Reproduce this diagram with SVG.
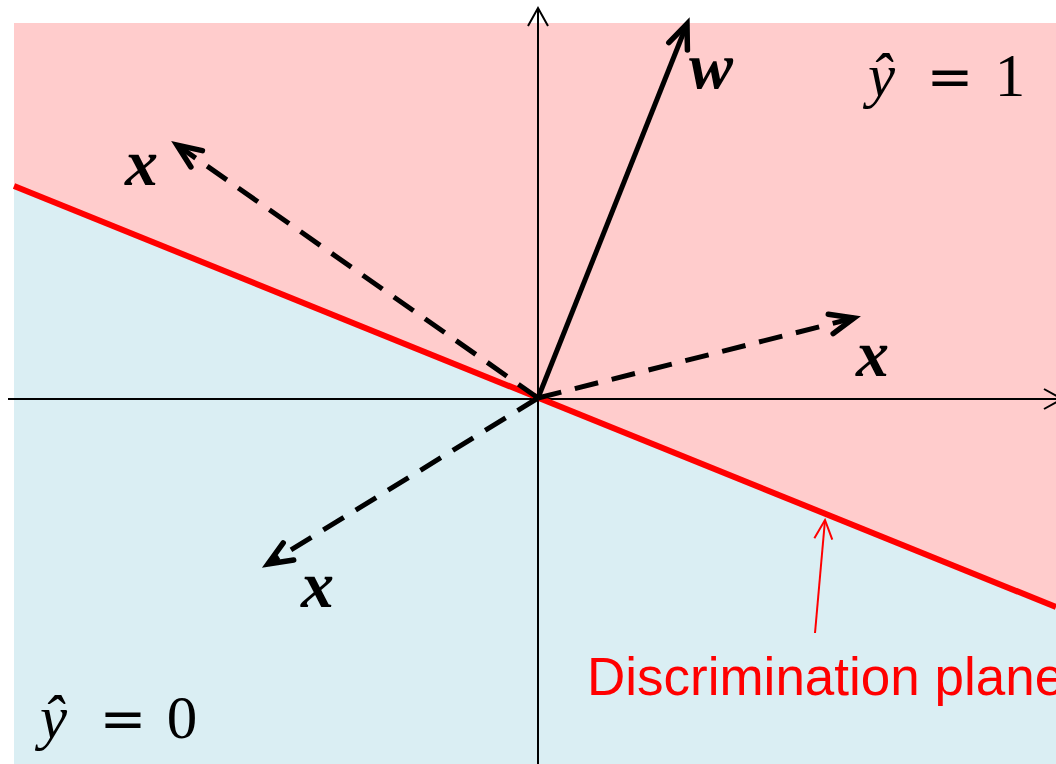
<svg xmlns="http://www.w3.org/2000/svg" width="1056" height="764" viewBox="0 0 1056 764">
<style>
.axis{stroke:#000;stroke-width:2;fill:none}
.vec{stroke:#000;stroke-width:5;fill:none}
.dash{stroke:#000;stroke-width:5;fill:none;stroke-dasharray:24 14}
.var{font-family:"Liberation Serif","DejaVu Serif",serif;font-style:italic;font-weight:bold;font-size:66px;fill:#000}
.math{font-family:"Liberation Serif","DejaVu Serif",serif;font-size:61px;fill:#000}
.eq{font-family:"DejaVu Serif","Liberation Serif",serif;font-size:56px;fill:#000}
.it{font-style:italic}
.lbl{font-family:"Liberation Sans",Arial,sans-serif;font-size:53px;fill:#FF0000}
</style>
<defs>
<marker id="ahAxis" markerUnits="userSpaceOnUse" viewBox="-22 -14 26 28" refX="0" refY="0" markerWidth="26" markerHeight="28" orient="auto" overflow="visible">
<path d="M-18,-10 L0,0 L-18,10" fill="none" stroke="#000" stroke-width="2"/>
</marker>
<marker id="ahVec" markerUnits="userSpaceOnUse" viewBox="-30 -16 34 32" refX="0" refY="0" markerWidth="34" markerHeight="32" orient="auto" overflow="visible">
<path d="M-24,-10 L0,0 L-24,10" fill="none" stroke="#000" stroke-width="5.5" stroke-linecap="round" stroke-linejoin="miter"/>
</marker>
<marker id="ahRed" markerUnits="userSpaceOnUse" viewBox="-22 -12 26 24" refX="0" refY="0" markerWidth="26" markerHeight="24" orient="auto" overflow="visible">
<path d="M-19,-9 L0,0 L-19,9" fill="none" stroke="#FF0000" stroke-width="2"/>
</marker>
</defs>
<g id="regions">
<polygon points="14,23 1056,23 1056,607 14,186" fill="#FFCCCC"/>
<polygon points="14,186 1056,607 1056,764 14,764" fill="#DAEEF3"/>
</g>
<g id="connectors">
<line class="axis" x1="8" y1="399" x2="1062" y2="399" marker-end="url(#ahAxis)"/>
<line class="axis" x1="538" y1="764" x2="538" y2="8" marker-end="url(#ahAxis)"/>
<line x1="14" y1="186" x2="1056" y2="607" stroke="#FF0000" stroke-width="6"/>
<line class="vec" x1="538" y1="398" x2="687" y2="24" marker-end="url(#ahVec)"/>
<line class="dash" x1="538" y1="398" x2="177" y2="145" marker-end="url(#ahVec)"/>
<line class="dash" x1="538" y1="398" x2="854" y2="318" marker-end="url(#ahVec)"/>
<line class="dash" x1="538" y1="398" x2="268" y2="564" marker-end="url(#ahVec)"/>
<line x1="815" y1="633" x2="825" y2="520" stroke="#FF0000" stroke-width="2" marker-end="url(#ahRed)"/>
</g>
<g id="label-w"><text class="var" x="689" y="88">w</text></g>
<g id="label-x1"><text class="var" x="125" y="185">x</text></g>
<g id="label-x2"><text class="var" x="856" y="376">x</text></g>
<g id="label-x3"><text class="var" x="301" y="607">x</text></g>
<g id="label-y1">
<text class="math it" x="868" y="96">ŷ</text>
<text class="eq" x="950" y="96" text-anchor="middle">=</text>
<text class="math" x="1010" y="96" text-anchor="middle">1</text>
</g>
<g id="label-y0">
<text class="math it" x="40" y="738">ŷ</text>
<text class="eq" x="123" y="738" text-anchor="middle">=</text>
<text class="math" x="182" y="738" text-anchor="middle">0</text>
</g>
<g id="label-plane"><text class="lbl" x="587" y="695">Discrimination plane</text></g>
</svg>
